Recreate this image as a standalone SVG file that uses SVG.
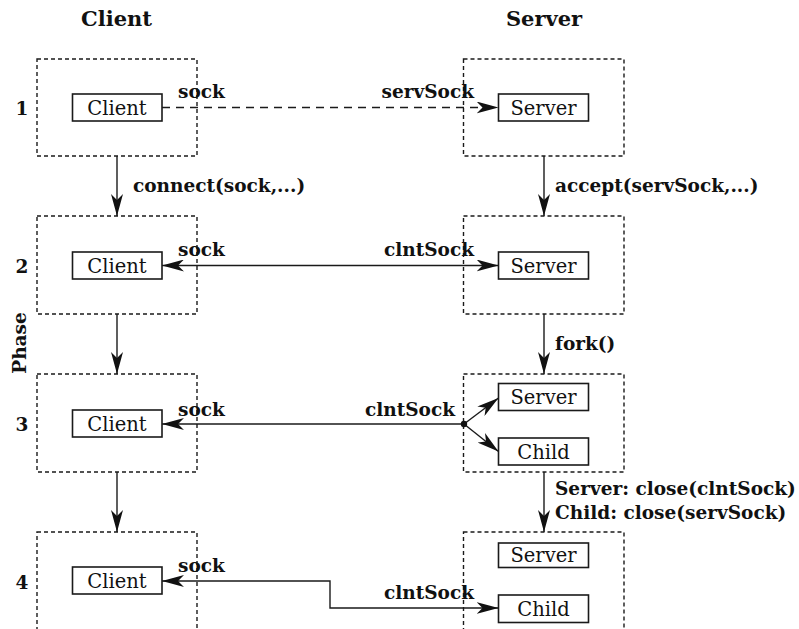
<svg xmlns="http://www.w3.org/2000/svg" width="799" height="629" viewBox="0 0 799 629">
<defs>
<style>
.phase{fill:none;stroke:#1a1a1a;stroke-width:1.4;stroke-dasharray:4,3}
.proc{fill:#fff;stroke:#1a1a1a;stroke-width:1.6}
.pt{font-family:"DejaVu Serif",serif;font-size:19.5px;fill:#111;text-anchor:middle}
.lb{font-family:"DejaVu Serif",serif;font-size:18.5px;font-weight:bold;fill:#111}
.tt{font-family:"DejaVu Serif",serif;font-size:21px;font-weight:bold;fill:#111;text-anchor:middle}
.ln{fill:none;stroke:#1a1a1a;stroke-width:1.4}
</style>
<marker id="ah" markerUnits="userSpaceOnUse" viewBox="0 0 22 12" markerWidth="22" markerHeight="12" refX="22" refY="6" orient="auto-start-reverse">
<path d="M0,0 L22,6 L0,12 L6,6 Z" fill="#111"/>
</marker>
</defs>
<rect width="799" height="629" fill="#fff"/>
<g id="titles">
<text class="tt" x="116.5" y="26">Client</text>
<text class="tt" x="544" y="26">Server</text>
<text class="lb" x="0" y="0" text-anchor="middle" transform="translate(26,343) rotate(-90)">Phase</text>
<text class="lb" x="22" y="115" text-anchor="middle">1</text>
<text class="lb" x="22" y="273" text-anchor="middle">2</text>
<text class="lb" x="22" y="431" text-anchor="middle">3</text>
<text class="lb" x="22" y="589" text-anchor="middle">4</text>
</g>
<g id="phase-boxes">
<rect class="phase" x="37" y="59" width="160" height="97"/>
<rect class="phase" x="463.5" y="59" width="160.5" height="97"/>
<rect class="phase" x="37" y="216" width="160" height="98"/>
<rect class="phase" x="463.5" y="216" width="160.5" height="98"/>
<rect class="phase" x="37" y="374" width="160" height="98"/>
<rect class="phase" x="463.5" y="374" width="160.5" height="98"/>
<rect class="phase" x="37" y="532" width="160" height="110"/>
<rect class="phase" x="463.5" y="532" width="160.5" height="110"/>
</g>
<g id="connectors">
<line class="ln" x1="162" y1="107.5" x2="498.5" y2="107.5" stroke-dasharray="8,6" marker-end="url(#ah)"/>
<line class="ln" x1="162" y1="265.5" x2="498.5" y2="265.5" marker-start="url(#ah)" marker-end="url(#ah)"/>
<line class="ln" x1="464" y1="424" x2="162" y2="424" marker-end="url(#ah)"/>
<line class="ln" x1="464" y1="424" x2="498.5" y2="398" marker-end="url(#ah)"/>
<line class="ln" x1="464" y1="424" x2="498.5" y2="451.5" marker-end="url(#ah)"/>
<circle cx="464" cy="424" r="3.2" fill="#111"/>
<polyline class="ln" points="162,581 330,581 330,608 498.5,608" marker-start="url(#ah)" marker-end="url(#ah)"/>
<line class="ln" x1="117" y1="156" x2="117" y2="216" marker-end="url(#ah)"/>
<line class="ln" x1="117" y1="314" x2="117" y2="374" marker-end="url(#ah)"/>
<line class="ln" x1="117" y1="472" x2="117" y2="532" marker-end="url(#ah)"/>
<line class="ln" x1="544" y1="156" x2="544" y2="216" marker-end="url(#ah)"/>
<line class="ln" x1="544" y1="314" x2="544" y2="374" marker-end="url(#ah)"/>
<line class="ln" x1="544" y1="472" x2="544" y2="532" marker-end="url(#ah)"/>
<text class="lb" x="178" y="98">sock</text>
<text class="lb" x="474" y="98" text-anchor="end">servSock</text>
<text class="lb" x="178" y="256">sock</text>
<text class="lb" x="474" y="256" text-anchor="end">clntSock</text>
<text class="lb" x="178" y="416">sock</text>
<text class="lb" x="455" y="416" text-anchor="end">clntSock</text>
<text class="lb" x="178" y="572">sock</text>
<text class="lb" x="474" y="599" text-anchor="end">clntSock</text>
<text class="lb" x="133" y="192">connect(sock,...)</text>
<text class="lb" x="555" y="192">accept(servSock,...)</text>
<text class="lb" x="555" y="350">fork()</text>
<text class="lb" x="555" y="495">Server: close(clntSock)</text>
<text class="lb" x="555" y="519">Child: close(servSock)</text>
</g>
<g id="client1"><rect class="proc" x="72.5" y="94" width="89.5" height="27"/><text class="pt" x="117" y="114.5">Client</text></g>
<g id="server1"><rect class="proc" x="498.5" y="94" width="90" height="27"/><text class="pt" x="543.5" y="114.5">Server</text></g>
<g id="client2"><rect class="proc" x="72.5" y="252" width="89.5" height="27"/><text class="pt" x="117" y="272.5">Client</text></g>
<g id="server2"><rect class="proc" x="498.5" y="252" width="90" height="27"/><text class="pt" x="543.5" y="272.5">Server</text></g>
<g id="client3"><rect class="proc" x="72.5" y="410" width="89.5" height="27"/><text class="pt" x="117" y="430.5">Client</text></g>
<g id="server3"><rect class="proc" x="498.5" y="383.5" width="90" height="27"/><text class="pt" x="543.5" y="404">Server</text></g>
<g id="child3"><rect class="proc" x="498.5" y="438" width="90" height="27"/><text class="pt" x="543.5" y="458.5">Child</text></g>
<g id="client4"><rect class="proc" x="72.5" y="567" width="89.5" height="27"/><text class="pt" x="117" y="587.5">Client</text></g>
<g id="server4"><rect class="proc" x="498.5" y="543" width="90" height="24.5"/><text class="pt" x="543.5" y="562">Server</text></g>
<g id="child4"><rect class="proc" x="498.5" y="595" width="90" height="27.5"/><text class="pt" x="543.5" y="615.5">Child</text></g>
</svg>
